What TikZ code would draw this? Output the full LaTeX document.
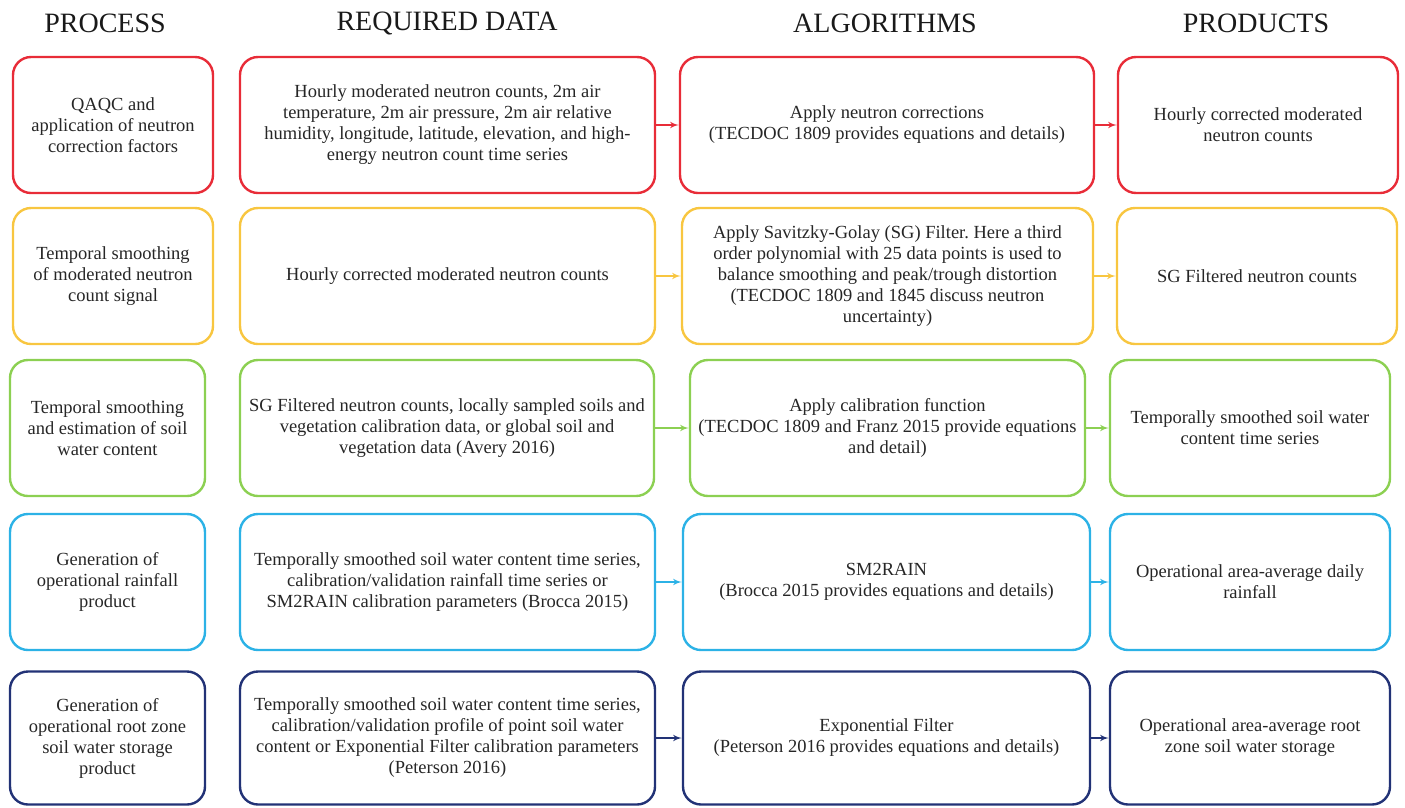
\documentclass[tikz,border=0pt]{standalone}
\usepackage{fontspec}
\setmainfont{Liberation Serif}
\usetikzlibrary{shapes,arrows,calc,positioning}
\frenchspacing
\definecolor{rowred}{RGB}{232,44,56}
\definecolor{rowyellow}{RGB}{248,198,64}
\definecolor{rowgreen}{RGB}{140,208,82}
\definecolor{rowcyan}{RGB}{44,178,230}
\definecolor{rownavy}{RGB}{34,50,118}
\tikzstyle{box} = [rectangle, draw, rounded corners=18pt, line width=2.4pt, align=center,
inner sep=0pt, minimum height=136pt, text=black!85, font=\fontsize{18.5}{21}\selectfont]
\tikzstyle{procbox} = [box, minimum width=200pt]
\tikzstyle{databox} = [box, minimum width=415pt]
\tikzstyle{algbox} = [box, minimum width=410pt]
\tikzstyle{prodbox} = [box, minimum width=280pt]
\tikzstyle{head} = [font=\fontsize{28}{32}\selectfont, text=black!90]
\tikzstyle{line} = [draw, line width=2pt, -latex']

\begin{document}
\begin{tikzpicture}[x=1pt, y=-1pt]
\useasboundingbox (0,0) rectangle (1405,807);

\node [head] (hproc) at (105,23) {PROCESS};
\node [head] (hdata) at (447,23) {REQUIRED DATA};
\node [head] (halg) at (885,23) {ALGORITHMS};
\node [head] (hprod) at (1256,23) {PRODUCTS};

% row 1
\node [procbox, draw=rowred] (proc1) at (113,125) {QAQC and\\application of neutron\\correction factors};
\node [databox, draw=rowred] (data1) at (447.5,125) {Hourly moderated neutron counts, 2m air\\temperature, 2m air pressure, 2m air relative\\humidity, longitude, latitude, elevation, and high-\\energy neutron count time series};
\node [algbox, draw=rowred, minimum width=414pt] (alg1) at (887,125) {Apply neutron corrections\\(TECDOC 1809 provides equations and details)};
\node [prodbox, draw=rowred] (prod1) at (1258,125) {Hourly corrected moderated\\neutron counts};

% row 2
\node [procbox, draw=rowyellow] (proc2) at (113,276) {Temporal smoothing\\of moderated neutron\\count signal};
\node [databox, draw=rowyellow] (data2) at (447.5,276) {Hourly corrected moderated neutron counts};
\node [algbox, draw=rowyellow, minimum width=411pt] (alg2) at (887.5,276) {Apply Savitzky-Golay (SG) Filter. Here a third\\order polynomial with 25 data points is used to\\balance smoothing and peak/trough distortion\\(TECDOC 1809 and 1845 discuss neutron\\uncertainty)};
\node [prodbox, draw=rowyellow] (prod2) at (1257,276) {SG Filtered neutron counts};

% row 3
\node [procbox, draw=rowgreen, minimum width=195pt] (proc3) at (107.5,428) {Temporal smoothing\\and estimation of soil\\water content};
\node [databox, draw=rowgreen, minimum width=414pt] (data3) at (447,428) {SG Filtered neutron counts, locally sampled soils and\\vegetation calibration data, or global soil and\\vegetation data (Avery 2016)};
\node [algbox, draw=rowgreen, minimum width=395pt] (alg3) at (887.5,428) {Apply calibration function\\(TECDOC 1809 and Franz 2015 provide equations\\and detail)};
\node [prodbox, draw=rowgreen] (prod3) at (1250,428) {Temporally smoothed soil water\\content time series};

% row 4
\node [procbox, draw=rowcyan, minimum width=195pt] (proc4) at (107.5,582) {Generation of\\operational rainfall\\product};
\node [databox, draw=rowcyan] (data4) at (447.5,582) {Temporally smoothed soil water content time series,\\calibration/validation rainfall time series or\\SM2RAIN calibration parameters (Brocca 2015)};
\node [algbox, draw=rowcyan, minimum width=407pt] (alg4) at (886.5,582) {SM2RAIN\\(Brocca 2015 provides equations and details)};
\node [prodbox, draw=rowcyan] (prod4) at (1250,582) {Operational area-average daily\\rainfall};

% row 5
\node [procbox, draw=rownavy, minimum width=195pt, minimum height=133pt] (proc5) at (107.5,738) {Generation of\\operational root zone\\soil water storage\\product};
\node [databox, draw=rownavy, minimum height=133pt] (data5) at (447.5,738) {Temporally smoothed soil water content time series,\\calibration/validation profile of point soil water\\content or Exponential Filter calibration parameters\\(Peterson 2016)};
\node [algbox, draw=rownavy, minimum width=407pt, minimum height=133pt] (alg5) at (886.5,738) {Exponential Filter\\(Peterson 2016 provides equations and details)};
\node [prodbox, draw=rownavy, minimum height=133pt] (prod5) at (1250,738) {Operational area-average root\\zone soil water storage};

\path [line, rowred] (data1) -- (alg1);
\path [line, rowred] (alg1) -- (prod1);
\path [line, rowyellow] (data2) -- (alg2);
\path [line, rowyellow] (alg2) -- (prod2);
\path [line, rowgreen] (data3) -- (alg3);
\path [line, rowgreen] (alg3) -- (prod3);
\path [line, rowcyan] (data4) -- (alg4);
\path [line, rowcyan] (alg4) -- (prod4);
\path [line, rownavy] (data5) -- (alg5);
\path [line, rownavy] (alg5) -- (prod5);
\end{tikzpicture}
\end{document}
